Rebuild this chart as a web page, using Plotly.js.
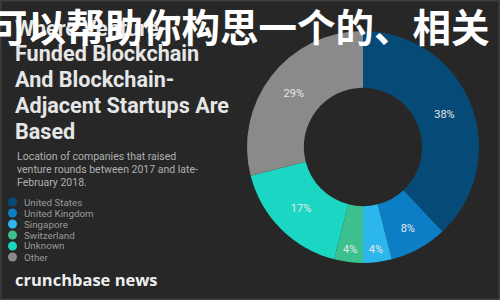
<!DOCTYPE html>
<html>
<head>
<meta charset="utf-8">
<script src="https://cdn.plot.ly/plotly-3.0.1.min.js"></script>
<style>
html,body{margin:0;padding:0;background:#272727;}
#chart{width:500px;height:300px;}
</style>
</head>
<body>
<div id="chart"></div>
<script>
const categories = ["United States", "United Kingdom", "Singapore", "Switzerland", "Unknown", "Other"];
const shares = [38, 8, 4, 4, 17, 29];
const sliceColors = ["#064b78", "#0b7ec6", "#2cb6ec", "#3cc08e", "#1ad6c3", "#8a8a8a"];
const titleLines = ["Where Venture-", "Funded Blockchain", "And Blockchain-", "Adjacent Startups Are", "Based"];
const subtitleLines = ["Location of companies that raised", "venture rounds between 2017 and late-", "February 2018."];
const overlayText = "可以帮助你构思一个的、相关";
const brandText = "crunchbase news";

const W = 500, H = 300;
const px = (x) => x / W;
const py = (y) => 1 - y / H;

const annotations = [];
const shapes = [];

titleLines.forEach((t, i) => {
  annotations.push({
    xref: "paper", yref: "paper", x: px(13), y: py(28 + i * 26),
    xanchor: "left", yanchor: "middle", showarrow: false, text: "<b>" + t + "</b>",
    font: {family: "Roboto, 'Open Sans', sans-serif", size: 21.6, color: "#e6e6e6"}
  });
});
subtitleLines.forEach((t, i) => {
  annotations.push({
    xref: "paper", yref: "paper", x: px(15), y: py(156 + i * 13),
    xanchor: "left", yanchor: "middle", showarrow: false, text: t,
    font: {family: "Roboto, sans-serif", size: 10.5, color: "#b0b0b0"}
  });
});
categories.forEach((c, i) => {
  const yc = 202 + i * 11;
  shapes.push({
    type: "circle", xref: "paper", yref: "paper",
    x0: px(8), x1: px(17), y0: py(yc + 4.5), y1: py(yc - 4.5),
    fillcolor: sliceColors[i], line: {width: 0}
  });
  annotations.push({
    xref: "paper", yref: "paper", x: px(22), y: py(yc),
    xanchor: "left", yanchor: "middle", showarrow: false, text: c,
    font: {family: "Roboto, sans-serif", size: 9.8, color: "#9a9a9a"}
  });
});
annotations.push({
  xref: "paper", yref: "paper", x: px(13), y: py(279),
  xanchor: "left", yanchor: "middle", showarrow: false, text: "<b>" + brandText + "</b>",
  font: {family: "'Open Sans', sans-serif", size: 16.5, color: "#eeeeee"}
});
annotations.push({
  xref: "paper", yref: "paper", x: px(-13), y: py(25),
  xanchor: "left", yanchor: "middle", showarrow: false, text: "<b>" + overlayText + "</b>",
  font: {family: "'Noto Sans CJK SC', sans-serif", size: 38.5, color: "#ffffff"}
});
shapes.push({
  type: "rect", xref: "paper", yref: "paper", x0: 0, x1: 1, y0: 0, y1: 1,
  line: {color: "#3d3d3d", width: 3}, fillcolor: "rgba(0,0,0,0)"
});

const data = [{
  type: "pie",
  labels: categories,
  values: shares,
  hole: 0.51,
  sort: false,
  direction: "clockwise",
  rotation: 0,
  marker: {colors: sliceColors, line: {width: 0}},
  textinfo: "percent",
  texttemplate: "%{percent:.0%}",
  textposition: "inside",
  insidetextorientation: "horizontal",
  textfont: {family: "Roboto, sans-serif", size: 11, color: "#e8e8e8"},
  domain: {x: [px(247), px(479)], y: [py(263), py(31)]},
  showlegend: false,
  hoverinfo: "none"
}];

const layout = {
  width: W, height: H,
  margin: {l: 0, r: 0, t: 0, b: 0},
  paper_bgcolor: "#272727",
  plot_bgcolor: "#272727",
  showlegend: false,
  annotations: annotations,
  shapes: shapes
};

Plotly.newPlot("chart", data, layout, {staticPlot: true});
</script>
</body>
</html>
